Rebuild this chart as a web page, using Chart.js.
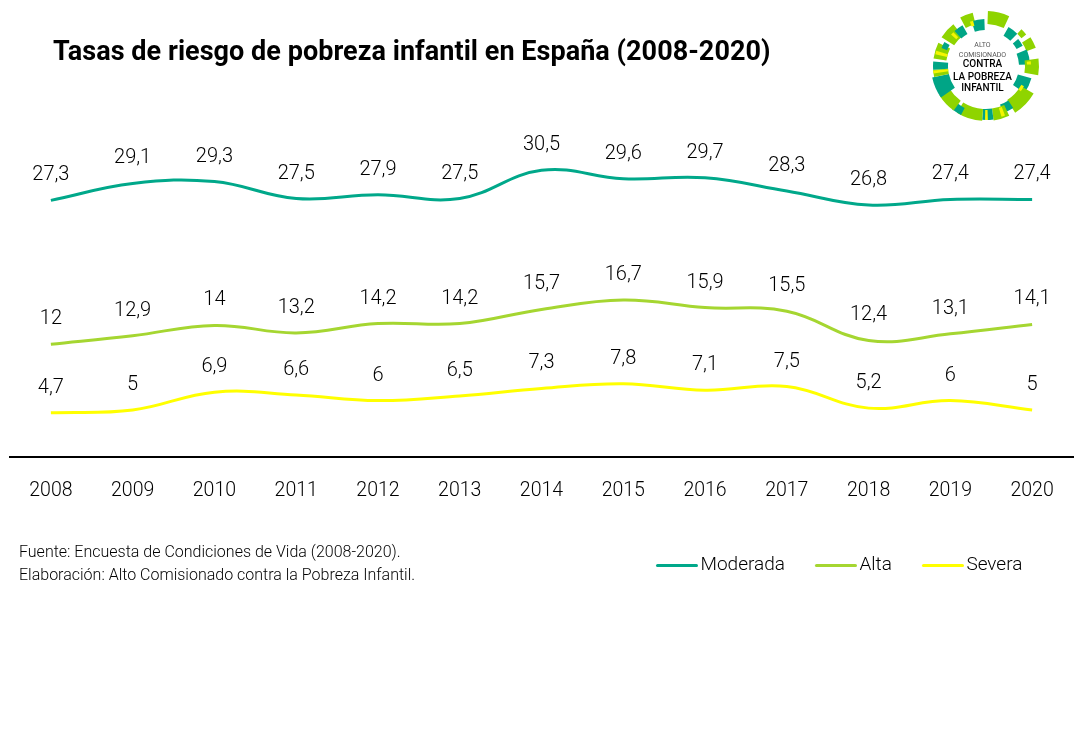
<!DOCTYPE html>
<html lang="es">
<head>
<meta charset="utf-8">
<title>Tasas de riesgo de pobreza infantil en España</title>
<script src="https://cdn.jsdelivr.net/npm/chart.js@4"></script>
<style>
    html, body { margin: 0; padding: 0; background: #fff; }
    #wrap { position: relative; width: 1079px; height: 746px; overflow: hidden; font-family: Roboto, sans-serif; color: #000; }
    #grafico { position: absolute; left: 0; top: 0; }
    #titulo { position: absolute; left: 53px; top: 35px; font-size: 27px; font-weight: 700; letter-spacing: 0.04px; white-space: nowrap; }
    #fuente { position: absolute; left: 19px; top: 540px; font-size: 16px; font-weight: 300; line-height: 23px; white-space: nowrap; }
    #logo { position: absolute; left: 925px; top: 5px; }
</style>
</head>
<body>
<div id="wrap">
    <canvas id="grafico" width="1079" height="746"></canvas>
    <div id="titulo">Tasas de riesgo de pobreza infantil en España (2008-2020)</div>
    <div id="fuente">Fuente: Encuesta de Condiciones de Vida (2008-2020).<br>Elaboración: Alto Comisionado contra la Pobreza Infantil.</div>
    <svg id="logo" width="122" height="122" viewBox="-61 -61 122 122"></svg>
</div>
<script>
// Datos
const anios = ['2008', '2009', '2010', '2011', '2012', '2013', '2014', '2015', '2016', '2017', '2018', '2019', '2020'];
const moderada = [27.3, 29.1, 29.3, 27.5, 27.9, 27.5, 30.5, 29.6, 29.7, 28.3, 26.8, 27.4, 27.4];
const alta = [12, 12.9, 14, 13.2, 14.2, 14.2, 15.7, 16.7, 15.9, 15.5, 12.4, 13.1, 14.1];
const severa = [4.7, 5, 6.9, 6.6, 6, 6.5, 7.3, 7.8, 7.1, 7.5, 5.2, 6, 5];

const VERDE_OSCURO = '#00a88a';
const VERDE_CLARO = '#a5d631';
const AMARILLO = '#ffff00';
const FUENTE = 'Roboto, sans-serif';

// Logo: segmentos del anillo [inicio, fin, radio interior, radio exterior, color]
const T = '#00a586', G = '#8fd400', Y = '#f5f500';
const segmentos = [
    [2, 25, 42, 55, G], [30, 44, 35, 45, T], [44, 52, 45, 51, G], [50, 61, 35, 42, T],
    [57, 70, 43, 53, G], [68, 88, 33, 44, T], [82, 100, 39, 53, G], [84, 88, 41, 45, Y],
    [105, 125, 33, 47, T], [120, 148, 40, 55, G], [118, 126, 40, 43, Y], [147, 160, 41, 50, T],
    [155, 172, 43, 55, G], [159, 163, 44, 53, Y], [172, 184, 43, 54, T], [184, 212, 43, 55, G],
    [178, 181, 44, 54, Y], [207, 218, 47, 55, T], [216, 238, 43, 55, G], [235, 258, 38, 55, T],
    [258, 266, 38, 53, G], [266, 275, 38, 53, T], [262, 265, 38, 53, Y], [278, 296, 40, 53, G],
    [283, 287, 40, 52, Y], [292, 300, 42, 48, T], [303, 322, 38, 53, G], [312, 316, 40, 47, Y],
    [318, 330, 37, 47, T], [332, 346, 43, 55, G], [342, 358, 36, 47, T], [340, 344, 42, 47, Y]
];
const textosLogo = [
    ['ALTO', -23, 7, '#555', 400], ['COMISIONADO', -13, 7, '#555', 400],
    ['CONTRA', -3, 10, '#000', 500], ['LA POBREZA', 10, 10, '#000', 500], ['INFANTIL', 21, 10, '#000', 500]
];

const dibujarLogo = () => {
    const svg = document.getElementById('logo');
    const ns = 'http://www.w3.org/2000/svg';
    const punto = (ang, r) => {
        const rad = ang * Math.PI / 180;
        return (r * Math.sin(rad)).toFixed(2) + ' ' + (-r * Math.cos(rad)).toFixed(2);
    };
    segmentos.forEach(([a, b, r1, r2, color]) => {
        const path = document.createElementNS(ns, 'path');
        path.setAttribute('d', `M${punto(a, r1)} L${punto(a, r2)} A${r2} ${r2} 0 0 1 ${punto(b, r2)} L${punto(b, r1)} A${r1} ${r1} 0 0 0 ${punto(a, r1)} Z`);
        path.setAttribute('fill', color);
        svg.appendChild(path);
    });
    textosLogo.forEach(([texto, y, size, color, peso]) => {
        const t = document.createElementNS(ns, 'text');
        t.textContent = texto;
        t.setAttribute('x', -3.5);
        t.setAttribute('y', y + 3.5);
        t.setAttribute('text-anchor', 'middle');
        t.setAttribute('font-size', size);
        t.setAttribute('font-weight', peso);
        t.setAttribute('font-family', FUENTE);
        t.setAttribute('fill', color);
        svg.appendChild(t);
    });
};
dibujarLogo();

// Muestra de línea para la leyenda
const muestraLinea = (color) => {
    const c = document.createElement('canvas');
    c.width = 49;
    c.height = 5;
    const ctx = c.getContext('2d');
    ctx.strokeStyle = color;
    ctx.lineWidth = 3;
    ctx.lineCap = 'round';
    ctx.beginPath();
    ctx.moveTo(8.5, 2.5);
    ctx.lineTo(47.5, 2.5);
    ctx.stroke();
    return c;
};

// Etiquetas de valor encima de cada punto
const etiquetasValor = {
    id: 'etiquetasValor',
    afterDatasetsDraw(chart) {
        const ctx = chart.ctx;
        ctx.save();
        ctx.font = '300 20px ' + FUENTE;
        ctx.fillStyle = '#000';
        ctx.textAlign = 'center';
        ctx.textBaseline = 'middle';
        chart.data.datasets.forEach((ds, i) => {
            chart.getDatasetMeta(i).data.forEach((p, j) => {
                ctx.fillText(String(ds.data[j]).replace('.', ','), p.x, p.y - 25);
            });
        });
        ctx.restore();
    }
};

// Coloca la leyenda en su sitio, a la derecha bajo el eje
// (Chart.js suma labels.padding a left y top al dibujar)
const moverLeyenda = {
    id: 'moverLeyenda',
    afterLayout(chart) {
        const l = chart.legend;
        l.left = 626;
        l.right = 1200;
        l.top = 526;
    }
};

const serie = (label, data, color) => ({
    label, data,
    borderColor: color,
    backgroundColor: color,
    borderWidth: 3,
    tension: 0.4,
    pointRadius: 0,
    fill: false,
    pointStyle: muestraLinea(color)
});

new Chart(document.getElementById('grafico').getContext('2d'), {
    type: 'line',
    data: {
        labels: anios,
        datasets: [
            serie('Moderada', moderada, VERDE_OSCURO),
            serie('Alta', alta, VERDE_CLARO),
            serie('Severa', severa, AMARILLO)
        ]
    },
    options: {
        responsive: false,
        animation: false,
        layout: { padding: { left: 10, right: 6, top: 81, bottom: 0 } },
        scales: {
            x: {
                offset: true,
                grid: { display: false, drawTicks: false },
                border: { color: '#000', width: 2 },
                ticks: { color: '#000', font: { family: FUENTE, size: 19.5, weight: '300' }, padding: 22, maxRotation: 0, autoSkip: false },
                afterFit: (scale) => { scale.height = 230; }
            },
            y: { display: false, min: 0, max: 40 }
        },
        plugins: {
            title: { display: false },
            tooltip: { enabled: false },
            legend: {
                display: true,
                position: 'bottom',
                align: 'start',
                padding: 0,
                labels: {
                    color: '#000',
                    font: { family: FUENTE, size: 19, weight: '300' },
                    usePointStyle: true,
                    pointStyleWidth: 35,
                    padding: 30
                }
            }
        }
    },
    plugins: [etiquetasValor, moverLeyenda]
});
</script>
</body>
</html>
